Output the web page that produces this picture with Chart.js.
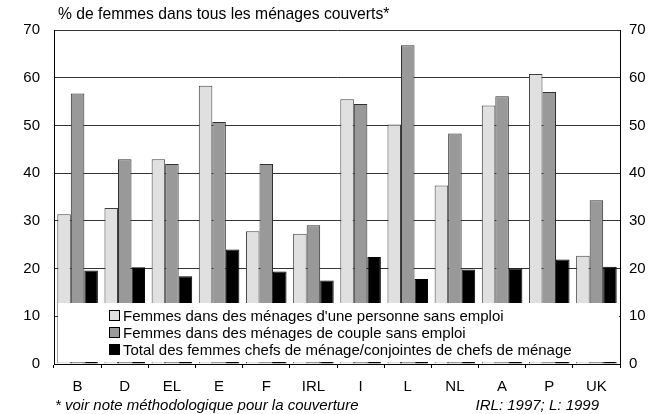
<!DOCTYPE html>
<html>
<head>
<meta charset="utf-8">
<script src="https://cdn.jsdelivr.net/npm/chart.js@4.4.1/dist/chart.umd.min.js"></script>
<style>
  html, body { margin: 0; padding: 0; background: #fff; }
  #wrap { width: 650px; height: 414px; }
</style>
</head>
<body>
<div id="wrap"><canvas id="c" width="650" height="414"></canvas></div>
<script>
const categories = ['B', 'D', 'EL', 'E', 'F', 'IRL', 'I', 'L', 'NL', 'A', 'P', 'UK'];
const singleJobless = [31.4, 32.7, 42.9, 58.3, 27.8, 27.3, 55.5, 50.2, 37.4, 54.2, 60.8, 22.7];
const coupleJobless = [56.7, 42.9, 41.9, 50.7, 41.9, 29.1, 54.5, 66.8, 48.3, 56.1, 57.0, 34.3];
const allWomen = [19.6, 20.3, 18.4, 24.0, 19.4, 17.5, 22.4, 17.8, 19.8, 20.0, 21.9, 20.4];
const seriesLabels = [
  "Femmes dans des ménages d'une personne sans emploi",
  "Femmes dans des ménages de couple sans emploi",
  "Total des femmes chefs de ménage/conjointes de chefs de ménage"
];
const yTicks = [0, 10, 20, 30, 40, 50, 60, 70];
const axisTitle = "% de femmes dans tous les ménages couverts*";
const footLeft = "* voir note méthodologique pour la couverture";
const footRight = "IRL: 1997; L: 1999";

const FONT = "'Liberation Sans', Arial, sans-serif";
const colors = ['#e0e0e0', '#999999', '#000000'];

const overlayPlugin = {
  id: 'overlay',
  afterDatasetsDraw(chart) {
    const ctx = chart.ctx;
    const a = chart.chartArea;
    ctx.save();
    // legend box inside plot
    ctx.fillStyle = '#ffffff';
    ctx.fillRect(a.left + 4, 303, a.right - a.left - 5, 59);
    ctx.font = '15px ' + FONT;
    ctx.textBaseline = 'middle';
    const rows = [316, 333, 350];
    chart.data.datasets.forEach((ds, i) => {
      ctx.fillStyle = ds.backgroundColor;
      ctx.fillRect(109.5, rows[i] - 5.5, 10, 10);
      ctx.strokeStyle = '#000';
      ctx.lineWidth = 1;
      ctx.strokeRect(109.5, rows[i] - 5.5, 10, 10);
      ctx.fillStyle = '#000';
      ctx.fillText(ds.label, 123, rows[i] + 0.5);
    });
    ctx.restore();
  },
  afterDraw(chart) {
    const ctx = chart.ctx;
    ctx.save();
    ctx.fillStyle = '#000';
    ctx.textBaseline = 'middle';
    ctx.font = '15.7px ' + FONT;
    ctx.fillText(axisTitle, 58, 15);
    ctx.font = 'italic 15px ' + FONT;
    ctx.fillText(footLeft, 55, 406);
    ctx.textAlign = 'right';
    ctx.fillText(footRight, 599, 406);
    ctx.restore();
  }
};

new Chart(document.getElementById('c'), {
  type: 'bar',
  data: {
    labels: categories,
    datasets: [
      { label: seriesLabels[0], data: singleJobless, backgroundColor: colors[0], borderColor: '#404040', borderWidth: 1 },
      { label: seriesLabels[1], data: coupleJobless, backgroundColor: colors[1], borderColor: '#303030', borderWidth: 1 },
      { label: seriesLabels[2], data: allWomen, backgroundColor: colors[2], borderColor: '#000000', borderWidth: 1 }
    ]
  },
  plugins: [overlayPlugin],
  options: {
    responsive: false,
    animation: false,
    devicePixelRatio: 1,
    layout: { padding: { top: 30, bottom: 0, left: 0, right: 0 } },
    datasets: { bar: { categoryPercentage: 0.86, barPercentage: 1.0 } },
    plugins: { legend: { display: false }, tooltip: { enabled: false }, title: { display: false } },
    scales: {
      x: {
        offset: true,
        grid: { display: true, offset: true, drawOnChartArea: false, drawTicks: true, tickLength: 4, color: '#000' },
        border: { display: true, color: '#000', width: 1 },
        ticks: { color: '#000', font: { family: FONT, size: 15 }, padding: 10, maxRotation: 0, autoSkip: false },
        afterFit(s) { s.height = 50; }
      },
      y: {
        position: 'left',
        min: 0, max: 70,
        afterBuildTicks(s) { s.ticks = yTicks.map(v => ({ value: v })); },
        grid: { color: '#333333', lineWidth: 1, drawTicks: false },
        border: { display: true, color: '#000', width: 1 },
        ticks: { color: '#000', font: { family: FONT, size: 15 }, padding: 14 },
        afterFit(s) { s.width = 54; }
      },
      y2: {
        position: 'right',
        min: 0, max: 70,
        afterBuildTicks(s) { s.ticks = yTicks.map(v => ({ value: v })); },
        grid: { display: false, drawTicks: false },
        border: { display: true, color: '#000', width: 1 },
        ticks: { color: '#000', font: { family: FONT, size: 15 }, padding: 9 },
        afterFit(s) { s.width = 30; }
      }
    }
  }
});
</script>
</body>
</html>
